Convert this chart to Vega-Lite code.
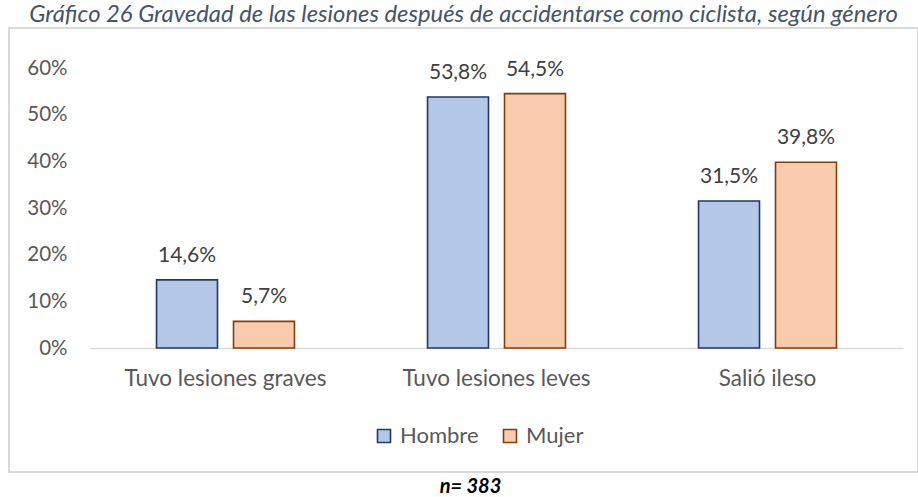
{
  "$schema": "https://vega.github.io/schema/vega-lite/v6.json",
  "autosize": "none",
  "width": 909,
  "height": 444,
  "padding": {"left": 9, "top": 28, "right": 0, "bottom": 25},
  "background": "white",
  "title": {
    "text": "Gráfico 26 Gravedad de las lesiones después de accidentarse como ciclista, según género",
    "font": "Lato", "fontStyle": "italic", "fontWeight": "normal", "fontSize": 23.8,
    "color": "#44546A", "anchor": "middle", "offset": 1
  },
  "data": {
    "values": [
      {"categoria": "Tuvo lesiones graves", "genero": "Hombre", "valor": 0.146},
      {"categoria": "Tuvo lesiones graves", "genero": "Mujer", "valor": 0.057},
      {"categoria": "Tuvo lesiones leves", "genero": "Hombre", "valor": 0.538},
      {"categoria": "Tuvo lesiones leves", "genero": "Mujer", "valor": 0.545},
      {"categoria": "Salió ileso", "genero": "Hombre", "valor": 0.315},
      {"categoria": "Salió ileso", "genero": "Mujer", "valor": 0.398}
    ]
  },
  "encoding": {
    "x": {
      "field": "categoria", "type": "nominal",
      "sort": ["Tuvo lesiones graves", "Tuvo lesiones leves", "Salió ileso"],
      "scale": {"range": [81, 894], "paddingInner": 0.491, "paddingOuter": 0.2455},
      "axis": {
        "orient": "bottom", "offset": -124, "domainColor": "#D9D9D9", "domainWidth": 1.5,
        "ticks": false, "labelPadding": 19, "labelFont": "Lato", "labelFontSize": 22.5,
        "labelColor": "#595959", "labelAngle": 0, "labelLimit": 0,
        "title": "n= 383", "titleFont": "Lato", "titleFontStyle": "italic", "titleFontWeight": "bold",
        "titleFontSize": 20, "titleColor": "#000000", "titleX": 461, "titleY": 144,
        "titleAlign": "center", "titleBaseline": "alphabetic"
      }
    },
    "xOffset": {
      "field": "genero", "type": "nominal", "sort": ["Hombre", "Mujer"],
      "scale": {"paddingInner": 0.208, "paddingOuter": 0}
    },
    "y": {
      "field": "valor", "type": "quantitative",
      "scale": {"domain": [0, 0.6], "range": [320, 40], "nice": false},
      "axis": {
        "orient": "left", "offset": -58, "values": [0, 0.1, 0.2, 0.3, 0.4, 0.5, 0.6],
        "format": ".0%", "domain": false, "ticks": false, "grid": false, "labelPadding": 0,
        "labelFont": "Lato", "labelFontSize": 20.5, "labelColor": "#595959", "title": null
      }
    }
  },
  "layer": [
    {
      "mark": {"type": "bar", "strokeWidth": 1.6},
      "encoding": {
        "color": {
          "field": "genero", "type": "nominal",
          "scale": {"domain": ["Hombre", "Mujer"], "range": ["#B4C7E7", "#F8CBAD"]},
          "legend": {
            "orient": "none", "legendX": 364, "legendY": 397, "direction": "horizontal",
            "title": null, "symbolType": "square", "symbolSize": 169, "symbolStrokeWidth": 1.6,
            "labelFont": "Lato", "labelFontSize": 22, "labelColor": "#595959",
            "labelOffset": 5, "columnPadding": 20
          }
        },
        "stroke": {
          "field": "genero", "type": "nominal",
          "scale": {"domain": ["Hombre", "Mujer"], "range": ["#203864", "#843C0C"]},
          "legend": {
            "orient": "none", "legendX": 364, "legendY": 397, "direction": "horizontal",
            "title": null, "symbolType": "square", "symbolSize": 169, "symbolStrokeWidth": 1.6,
            "labelFont": "Lato", "labelFontSize": 22, "labelColor": "#595959",
            "labelOffset": 5, "columnPadding": 20
          }
        }
      }
    },
    {
      "mark": {"type": "text", "baseline": "alphabetic", "dy": -18, "font": "Lato", "fontSize": 21, "color": "#404040"},
      "encoding": {
        "text": {"field": "valor", "type": "quantitative", "format": ".1%"}
      }
    }
  ],
  "config": {
    "locale": {"number": {"decimal": ",", "thousands": ".", "grouping": [3], "currency": ["", "€"]}},
    "view": {"stroke": "#D9D9D9", "strokeWidth": 2}
  }
}
